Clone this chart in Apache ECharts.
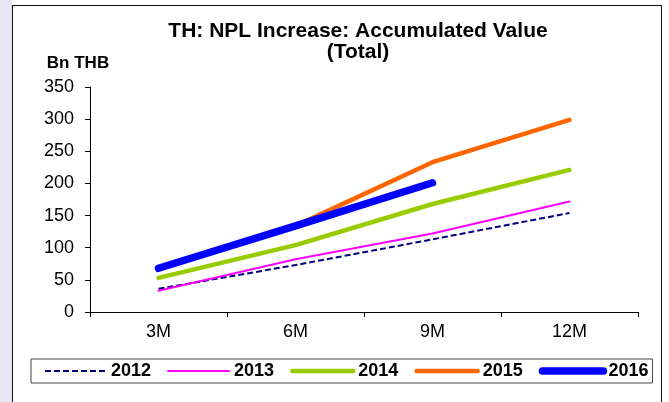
<!DOCTYPE html>
<html>
<head>
<meta charset="utf-8">
<script src="https://cdn.jsdelivr.net/npm/echarts@6/dist/echarts.min.js"></script>
<style>
  html, body { margin: 0; padding: 0; background: #ffffff; }
  #wrap { position: relative; width: 669px; height: 402px; overflow: hidden; }
  #strip { position: absolute; left: 0; top: 0; width: 12px; height: 402px; background: #e7e7f3; }
  #frame { position: absolute; left: 12px; top: 5px; width: 650px; height: 420px; border: 1px solid #111; box-sizing: border-box; background: #fff; }
  #chart { position: absolute; left: 0; top: 0; width: 669px; height: 402px; }
</style>
</head>
<body>
<div id="wrap">
  <div id="strip"></div>
  <div id="frame"></div>
  <div id="chart"></div>
</div>
<script>
// Periods on the category axis
const periods = ['3M', '6M', '9M', '12M'];

// Accumulated NPL increase, Bn THB
const npl2012 = [36, 73, 113, 154];
const npl2013 = [33, 82, 122, 172];
const npl2014 = [53, 104, 168, 221];
const npl2015 = [67, 134, 233, 299];
const npl2016 = [68, 134, 201];

const yTicks = { min: 0, max: 350, step: 50 };

const font = 'Arial, "Liberation Sans", Helvetica, sans-serif';

// Per-year line styles, shared by the plot and the legend keys
const styles = {
  '2012': { color: '#000080', width: 2, type: [6, 3], cap: 'butt' },
  '2013': { color: '#ff00ff', width: 2, type: 'solid', cap: 'round' },
  '2014': { color: '#99cc00', width: 4.5, type: 'solid', cap: 'round' },
  '2015': { color: '#ff6600', width: 4.5, type: 'solid', cap: 'round' },
  '2016': { color: '#0000ff', width: 7.5, type: 'solid', cap: 'round' }
};

function lineSeries(name, data) {
  const s = styles[name];
  return {
    name: name,
    type: 'line',
    data: data,
    symbol: 'none',
    smooth: false,
    silent: true,
    lineStyle: { color: s.color, width: s.width, type: s.type, cap: s.cap },
    itemStyle: { color: s.color }
  };
}

function legendItem(name) {
  const s = styles[name];
  return {
    name: name,
    itemStyle: { opacity: 0, borderWidth: 0 },
    lineStyle: { color: s.color, width: s.width, type: s.type, cap: s.cap, opacity: 1 }
  };
}

const chart = echarts.init(document.getElementById('chart'), null, { renderer: 'canvas' });

chart.setOption({
  backgroundColor: 'transparent',
  animation: false,
  title: {
    text: 'TH: NPL Increase: Accumulated Value\n(Total)',
    left: 358,
    top: 21,
    padding: 0,
    textAlign: 'center',
    textStyle: { fontFamily: font, fontSize: 21, fontWeight: 'bold', color: '#000', lineHeight: 21 }
  },
  grid: { left: 90, right: 31, top: 87, bottom: 90, containLabel: false },
  xAxis: {
    type: 'category',
    data: periods,
    boundaryGap: true,
    axisLine: { lineStyle: { color: '#000', width: 1 } },
    axisTick: { show: true, length: 5, lineStyle: { color: '#000' } },
    axisLabel: { fontFamily: font, fontSize: 18, color: '#000', margin: 11 },
    splitLine: { show: false }
  },
  yAxis: {
    type: 'value',
    min: yTicks.min,
    max: yTicks.max,
    interval: yTicks.step,
    name: 'Bn THB',
    nameLocation: 'end',
    nameGap: 15,
    nameTextStyle: { fontFamily: font, fontSize: 17, fontWeight: 'bold', color: '#000', padding: [0, 24, 0, 0] },
    axisLine: { show: true, lineStyle: { color: '#000', width: 1 } },
    axisTick: { show: true, length: 5, lineStyle: { color: '#000' } },
    axisLabel: { fontFamily: font, fontSize: 18, color: '#000', margin: 16 },
    splitLine: { show: false }
  },
  legend: {
    left: 31,
    top: 359,
    orient: 'horizontal',
    padding: [3, 4, 3, 13],
    itemWidth: 61,
    itemHeight: 18,
    itemGap: 16,
    borderColor: '#444',
    borderWidth: 1,
    backgroundColor: '#fff',
    selectedMode: false,
    textStyle: { fontFamily: font, fontSize: 18, fontWeight: 'bold', color: '#000' },
    data: ['2012', '2013', '2014', '2015', '2016'].map(legendItem)
  },
  series: [
    lineSeries('2012', npl2012),
    lineSeries('2013', npl2013),
    lineSeries('2014', npl2014),
    lineSeries('2015', npl2015),
    lineSeries('2016', npl2016)
  ]
});
</script>
</body>
</html>
